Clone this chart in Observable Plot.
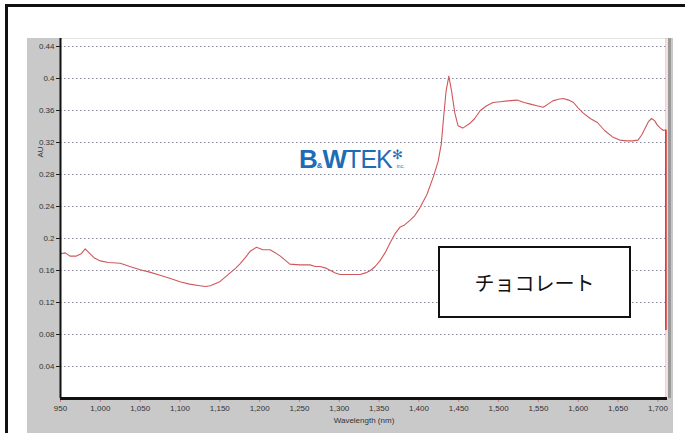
<!DOCTYPE html>
<html>
<head>
<meta charset="utf-8">
<script src="https://cdn.jsdelivr.net/npm/d3@7"></script>
<script src="https://cdn.jsdelivr.net/npm/@observablehq/plot@0.6"></script>
<style>
  html, body { margin: 0; padding: 0; background: #fff; }
  #page { position: relative; width: 687px; height: 433px; overflow: hidden; background: #fff; }
  #border { position: absolute; left: 5px; top: 4px; width: 677px; height: 440px; border-top: 3px solid #111; border-left: 3px solid #111; }
  #chart { position: absolute; left: 27px; top: 38px; }
  #logo { position: absolute; left: 299px; top: 146px; font-family: "Liberation Sans", Arial, sans-serif; color: #1f6cb5; white-space: nowrap; line-height: 1; }
  #logo .bw { font-weight: bold; font-size: 26px; letter-spacing: -1px; }
  #logo .amp { font-size: 8px; font-weight: bold; }
  #logo .tek { font-family: "Liberation Sans Narrow", "Liberation Sans", sans-serif; font-weight: normal; font-size: 25px; letter-spacing: -1px; }
  #logo .star { font-size: 13px; vertical-align: 9px; font-weight: normal; }
  #logo .inc { font-size: 5px; margin-left: -6px; }
  #label { position: absolute; left: 438px; top: 246px; width: 189px; height: 68px; border: 2px solid #111; background: #fff; display: flex; align-items: center; justify-content: center; font-family: "Noto Sans CJK JP", sans-serif; font-size: 20px; color: #111; }
</style>
</head>
<body>
<div id="page">
  <div id="border"></div>
  <div id="chart"></div>
  <div id="logo"><span class="bw">B</span><span class="amp">&amp;</span><span class="bw">W</span><span class="tek">TEK</span><span class="star">✻</span><span class="inc">inc.</span></div>
  <div id="label">チョコレート</div>
</div>
<script>
const wavelengths = [950,956,962,970,976,981,986,992,1000,1010,1025,1037,1050,1062,1075,1088,1100,1112,1125,1132,1138,1150,1163,1170,1175,1182,1188,1196,1204,1213,1220,1226,1232,1238,1250,1263,1270,1276,1283,1289,1295,1301,1315,1326,1333,1339,1345,1351,1358,1364,1370,1376,1382,1389,1395,1401,1410,1418,1424,1428,1431,1434,1437.5,1441,1445,1449,1455,1464,1470,1477,1485,1493,1502,1511,1523,1532,1540,1548,1556,1562,1568,1575,1581,1588,1594,1600,1606,1615,1624,1633,1643,1652,1661,1668,1675,1680,1684,1688,1692,1696,1699,1703,1707,1710];
const absorbance = [0.181,0.182,0.178,0.178,0.181,0.187,0.182,0.176,0.172,0.170,0.169,0.165,0.161,0.158,0.154,0.150,0.146,0.143,0.141,0.140,0.141,0.146,0.157,0.163,0.168,0.176,0.184,0.189,0.186,0.186,0.182,0.178,0.173,0.168,0.167,0.167,0.165,0.165,0.163,0.160,0.157,0.155,0.155,0.155,0.157,0.160,0.165,0.172,0.183,0.195,0.206,0.214,0.217,0.223,0.229,0.238,0.255,0.277,0.296,0.318,0.352,0.384,0.403,0.384,0.357,0.341,0.338,0.344,0.350,0.360,0.366,0.370,0.371,0.372,0.373,0.370,0.368,0.366,0.364,0.368,0.372,0.374,0.375,0.373,0.370,0.363,0.357,0.350,0.345,0.335,0.327,0.323,0.322,0.322,0.323,0.330,0.338,0.346,0.350,0.347,0.342,0.338,0.335,0.336];
const yTicks = [0.04,0.08,0.12,0.16,0.2,0.24,0.28,0.32,0.36,0.4,0.44];
const xTicks = [950,1000,1050,1100,1150,1200,1250,1300,1350,1400,1450,1500,1550,1600,1650,1700];
const xDomain = [950, 1712];
const yDomain = [0, 0.45];
const markerWavelength = [1710];
const markerRange = [0.085, 0.335];

const data = wavelengths.map((w, i) => ({w, a: absorbance[i]}));

const chart = Plot.plot({
  width: 646,
  height: 395,
  marginLeft: 33,
  marginRight: 6,
  marginTop: 0,
  marginBottom: 35,
  style: {background: "#c9c9c9", fontFamily: "'Liberation Sans Narrow', 'Liberation Sans', sans-serif", fontSize: "8px", color: "#333"},
  x: {domain: xDomain, label: null},
  y: {domain: yDomain, label: null},
  marks: [
    Plot.frame({fill: "white", stroke: null}),
    Plot.gridY(yTicks, {stroke: "#8a8a9a", strokeOpacity: 1, strokeDasharray: "1.5,2.5", strokeWidth: 1}),
    Plot.ruleX(markerWavelength, {stroke: "#ecb4b4", strokeWidth: 1}),
    Plot.ruleX(markerWavelength, {y1: markerRange[0], y2: markerRange[1], stroke: "#e02020", strokeWidth: 1.5}),
    Plot.line(data, {x: "w", y: "a", stroke: "#d0585c", strokeWidth: 1.1}),
    Plot.ruleX([xDomain[1]], {stroke: "#9a9a9a", strokeWidth: 3, dx: 2}),
    Plot.axisY(yTicks, {tickSize: 4, tickPadding: 2, stroke: "#222", fill: "#333", tickFormat: d => String(d)}),
    Plot.axisX(xTicks, {tickSize: 4, tickPadding: 3, stroke: "#d87088", fill: "#333", tickFormat: d3.format(",")}),
    Plot.ruleX([xDomain[0]], {stroke: "#111", strokeWidth: 2}),
    Plot.ruleY([0], {stroke: "#111", strokeWidth: 3}),
    Plot.text(["Wavelength (nm)"], {frameAnchor: "bottom", dy: 24, fill: "#333", fontSize: 8}),
    Plot.text(["AU"], {frameAnchor: "top-left", dx: -23, dy: 119, rotate: -90, fill: "#333", fontSize: 8})
  ]
});
document.getElementById("chart").appendChild(chart);
</script>
</body>
</html>
